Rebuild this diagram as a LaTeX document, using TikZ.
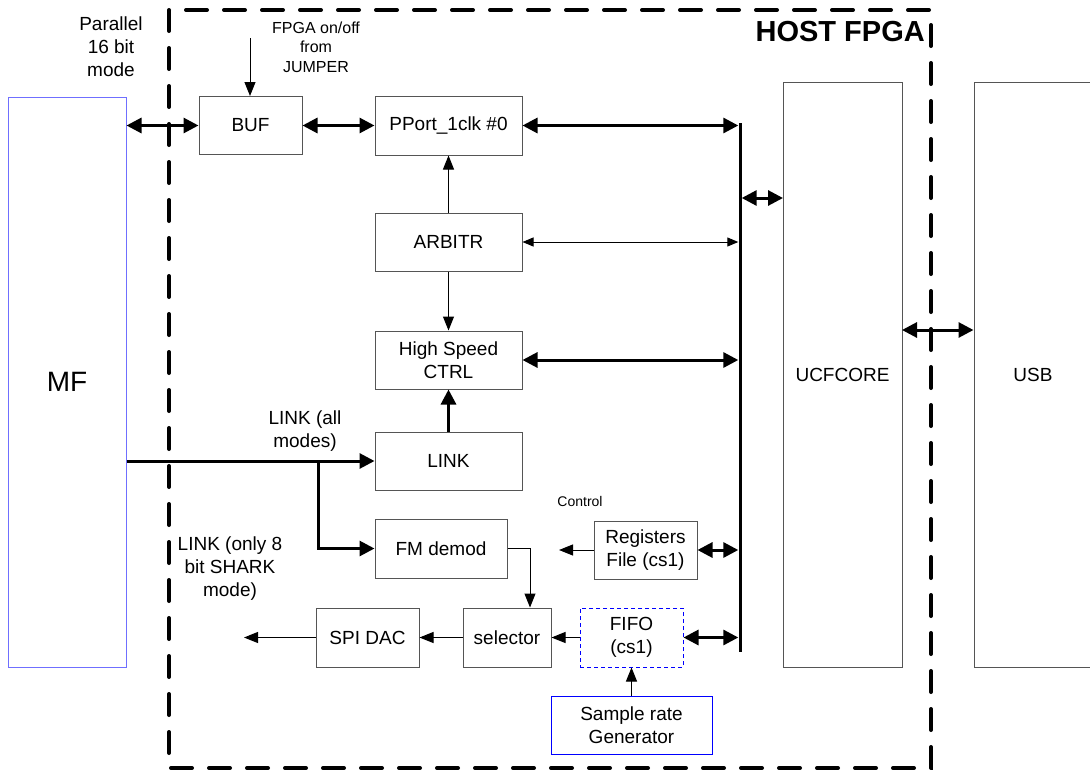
\documentclass[tikz,border=0pt]{standalone}
\usepackage{fontspec}
\setmainfont{Liberation Sans}
\usetikzlibrary{arrows.meta}
\newcommand\szmain{\fontsize{19}{23}\selectfont}
\newcommand\szjmp{\fontsize{16}{19.5}\selectfont}
\newcommand\szctl{\fontsize{14}{17}\selectfont}
\newcommand\szbig{\fontsize{28}{32}\selectfont}
\newcommand\szhost{\fontsize{29}{33}\selectfont\bfseries}
\definecolor{boxgray}{HTML}{555555}
\definecolor{mfblue}{HTML}{6F6FFF}
\tikzset{
  tk/.tip={Triangle[length=15pt,width=15pt]},
  tn/.tip={Triangle[length=14pt,width=11pt]},
  ts/.tip={Triangle[length=11pt,width=9pt]},
  blk/.style={draw=boxgray, line width=1pt, inner sep=0pt, align=center, font=\szmain, fill=white},
  thk/.style={line width=3pt},
  thn/.style={line width=1pt},
  lbl/.style={align=center, font=\szmain, inner sep=0pt},
}
\begin{document}
\begin{tikzpicture}[x=1pt,y=-1pt]
\clip (0,0) rectangle (1090,771);
\fill[white] (0,0) rectangle (1090,771);
% host fpga border
\draw[line width=4pt, line cap=round, dash pattern=on 21pt off 17pt] (169,10) rectangle (931,768);
\node[font=\szhost, anchor=east, inner sep=0pt] (host) at (925,32) {HOST FPGA};
% blocks
\node[blk, draw=mfblue, minimum width=118pt, minimum height=570pt, font=\szbig] (mf) at (67,382) {MF};
\node[blk, minimum width=103pt, minimum height=58pt] (buf) at (250.5,125.5) {BUF};
\node[blk, minimum width=147pt, minimum height=59pt] (pport) at (448.5,125.5) {PPort\_1clk \#0};
\node[blk, minimum width=147pt, minimum height=58pt] (arb) at (448.5,242) {ARBITR};
\node[blk, minimum width=147pt, minimum height=58pt] (hs) at (448.5,360) {High Speed\\CTRL};
\node[blk, minimum width=147pt, minimum height=58pt] (link) at (448.5,461) {LINK};
\node[blk, minimum width=132pt, minimum height=59pt] (fm) at (441,548.5) {FM demod};
\node[blk, minimum width=103pt, minimum height=58pt] (reg) at (645.5,550) {Registers\\File (cs1)};
\node[blk, minimum width=88pt, minimum height=59pt] (sel) at (507,637.5) {selector};
\node[blk, minimum width=103pt, minimum height=59pt] (spi) at (367.5,637.5) {SPI DAC};
\node[blk, draw=blue, dash pattern=on 4pt off 3pt, minimum width=103pt, minimum height=59pt] (fifo) at (631.5,637.5) {FIFO\\(cs1)};
\node[blk, draw=blue, minimum width=161pt, minimum height=58pt] (smp) at (631.5,725) {Sample rate\\Generator};
\node[blk, minimum width=119pt, minimum height=585pt] (ucf) at (842.5,374.5) {UCFCORE};
\node[blk, minimum width=118pt, minimum height=585pt] (usb) at (1033,374.5) {USB};
\node[fill=black, minimum width=3pt, minimum height=529pt, inner sep=0pt] (bus) at (740,387.5) {};
% labels
\node[lbl] (par) at (111,47) {Parallel\\16 bit\\mode};
\node[lbl, font=\szjmp] (jmp) at (316,47) {FPGA on/off\\from\\JUMPER};
\node[lbl] (linkall) at (305,431) {LINK (all\\modes)};
\node[lbl] (linkonly) at (230,569) {LINK (only 8\\bit SHARK\\mode)};
\node[lbl, font=\szctl] (ctl) at (580,501) {Control};
% coordinates
\coordinate (jtop) at (250,38);
\coordinate (u1) at (783,198);
\coordinate (u2) at (902,330);
\coordinate (br) at (318,461);
\coordinate (regout) at (559,550);
\coordinate (spiout) at (244,637.5);
% connectors
\draw[thk, tk-tk] (buf.west -| mf.east) -- (buf.west);
\draw[thk, tk-tk] (buf.east) -- (pport.west);
\draw[thk, tk-tk] (pport.east) -- (pport.east -| bus.west);
\draw[thk, tk-tk] (u1 -| bus.east) -- (u1);
\draw[thn, ts-ts] (arb.east) -- (arb.east -| bus.west);
\draw[thk, tk-tk] (hs.east) -- (hs.east -| bus.west);
\draw[thk, tk-tk] (u2) -- (u2 -| usb.west);
\draw[thn, -tn] (jtop) -- (jtop |- buf.north);
\draw[thn, -tn] (arb.north) -- (pport.south);
\draw[thn, -tn] (arb.south) -- (hs.north);
\draw[thk, -tk] (link.north) -- (hs.south);
\draw[thk, -tk] (link.west -| mf.east) -- (link.west);
\draw[thk, -tk] (br) |- (fm.west);
\draw[thn, -tn] (fm.east) -| ([xshift=23pt]sel.north);
\draw[thn, -tn] (reg.west) -- (regout);
\draw[thk, tk-tk] (reg.east) -- (reg.east -| bus.west);
\draw[thk, tk-tk] (fifo.east) -- (fifo.east -| bus.west);
\draw[thn, -tn] (fifo.west) -- (sel.east);
\draw[thn, -tn] (sel.west) -- (spi.east);
\draw[thn, -tn] (spi.west) -- (spiout);
\draw[thn, -tn] (smp.north) -- (fifo.south);
\end{tikzpicture}
\end{document}
